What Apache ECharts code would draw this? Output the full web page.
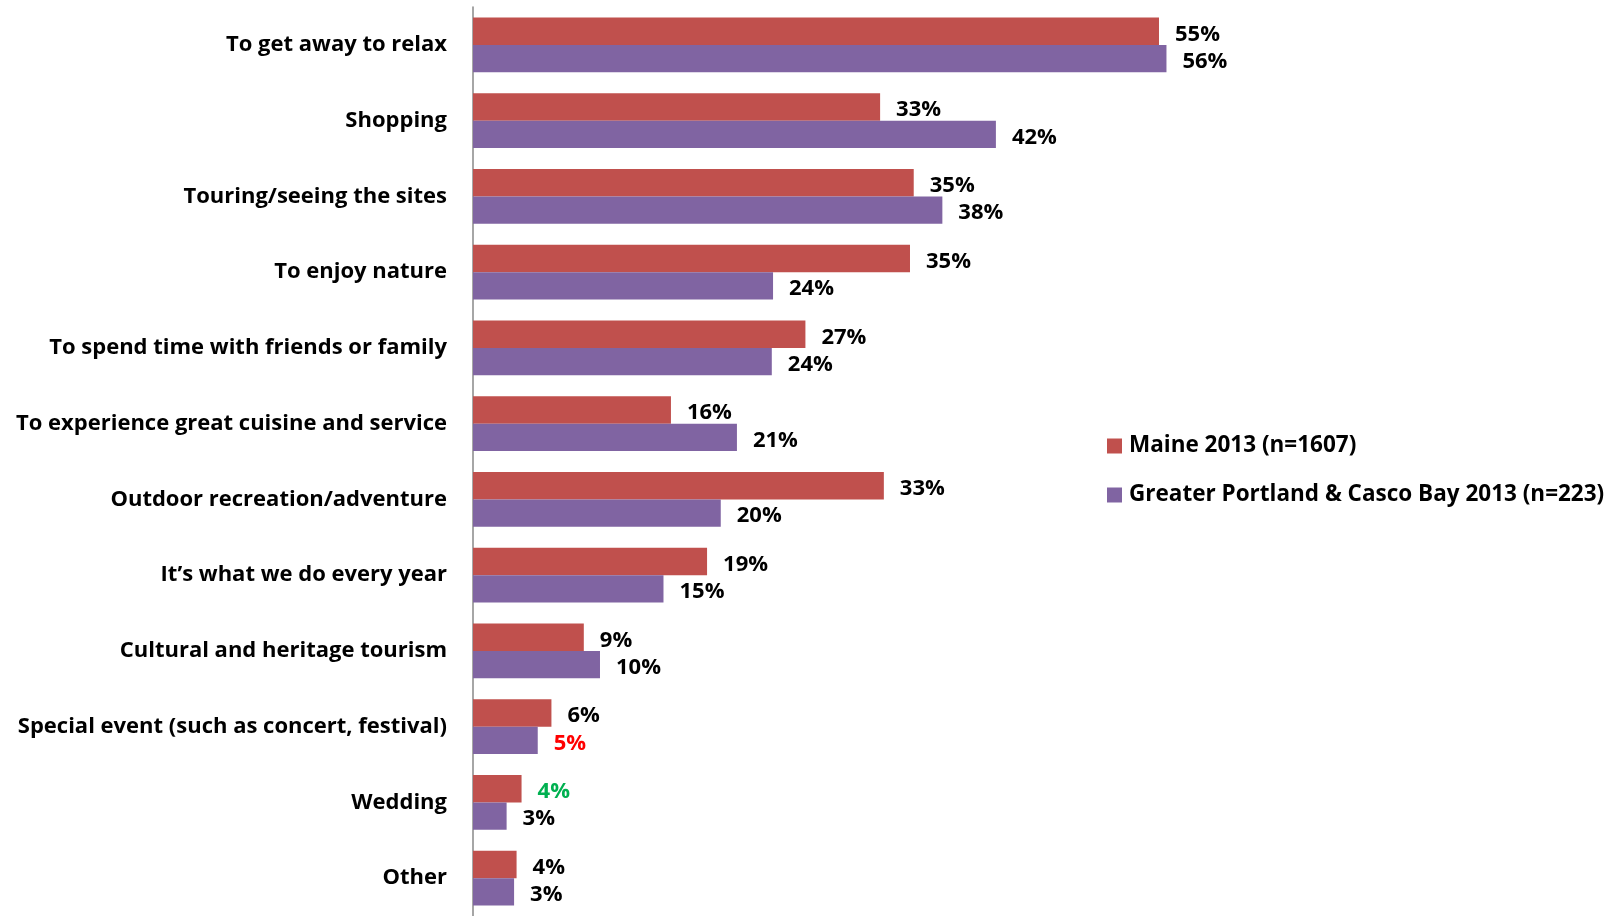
<!DOCTYPE html>
<html>
<head>
<meta charset="utf-8">
<script src="https://cdn.jsdelivr.net/npm/echarts@6/dist/echarts.min.js"></script>
<style>
  html, body { margin: 0; padding: 0; background: #fff; }
  #chart { width: 1622px; height: 916px; }
</style>
</head>
<body>
<div id="chart"></div>
<script>
// categories, top to bottom
var categories = [
  'To get away to relax',
  'Shopping',
  'Touring/seeing the sites',
  'To enjoy nature',
  'To spend time with friends or family',
  'To experience great cuisine and service',
  'Outdoor recreation/adventure',
  'It\u2019s what we do every year',
  'Cultural and heritage tourism',
  'Special event (such as concert, festival)',
  'Wedding',
  'Other'
];
var seriesNames = ['Maine 2013 (n=1607)', 'Greater Portland & Casco Bay 2013 (n=223)'];
// percentages
var maine = [55.1, 32.7, 35.4, 35.1, 26.7, 15.9, 33.0, 18.8, 8.9, 6.3, 3.9, 3.5];
var portland = [55.7, 42.0, 37.7, 24.1, 24.0, 21.2, 19.9, 15.3, 10.2, 5.2, 2.7, 3.3];

var font = 'Open Sans';

function withLabelColor(values, colors) {
  return values.map(function (v, i) {
    if (colors[i]) return { value: v, label: { color: colors[i] } };
    return v;
  });
}

var chart = echarts.init(document.getElementById('chart'));
chart.setOption({
  animation: false,
  textStyle: { fontFamily: font },
  grid: { left: 473, top: 7, width: 747, height: 912 },
  legend: {
    orient: 'vertical',
    left: 1102,
    top: 429,
    itemWidth: 15,
    itemHeight: 15,
    itemGap: 25,
    icon: 'rect',
    data: seriesNames,
    textStyle: { fontFamily: font, fontSize: 22.5, fontWeight: 'bold', color: '#000', lineHeight: 24, padding: [0, 0, 0, 2] }
  },
  xAxis: {
    type: 'value',
    min: 0,
    max: 60,
    show: false
  },
  yAxis: {
    type: 'category',
    data: categories,
    inverse: true,
    axisLine: { lineStyle: { color: '#888', width: 1.5 } },
    axisTick: { length: 7, lineStyle: { color: '#888', width: 1.5 } },
    axisLabel: { fontFamily: font, fontSize: 22, fontWeight: 'bold', color: '#000', margin: 26, padding: [5, 0, 0, 0] }
  },
  series: [
    {
      name: seriesNames[0],
      type: 'bar',
      barGap: '0%',
      barCategoryGap: '28%',
      itemStyle: { color: '#C0504D' },
      label: {
        show: true, position: 'right', distance: 16, offset: [0, 3],
        fontFamily: font, fontSize: 22, fontWeight: 'bold', color: '#000',
        formatter: function (p) { return Math.round(p.value) + '%'; }
      },
      data: withLabelColor(maine, { 10: '#00B050' })
    },
    {
      name: seriesNames[1],
      type: 'bar',
      itemStyle: { color: '#8064A2' },
      label: {
        show: true, position: 'right', distance: 16, offset: [0, 3],
        fontFamily: font, fontSize: 22, fontWeight: 'bold', color: '#000',
        formatter: function (p) { return Math.round(p.value) + '%'; }
      },
      data: withLabelColor(portland, { 9: '#FF0000' })
    }
  ]
});
</script>
</body>
</html>
